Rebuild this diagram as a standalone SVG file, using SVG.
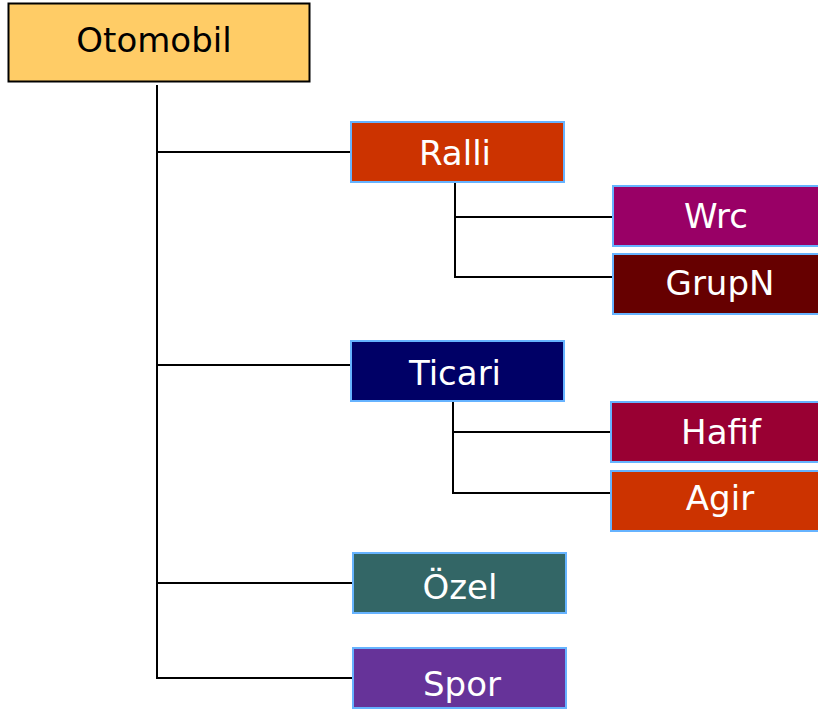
<svg xmlns="http://www.w3.org/2000/svg" width="818" height="711" viewBox="0 0 818 711">
<style>
.box{stroke:#66B3FF;stroke-width:2}
.lbl{font-family:"DejaVu Sans",Verdana,sans-serif;font-size:34px;fill:#FFFFFF;text-anchor:middle}
.conn{stroke:#000;stroke-width:2;fill:none}
</style>
<rect width="818" height="711" fill="#FFFFFF"/>
<g id="connectors">
<path class="conn" d="M157,85 V678 H353"/>
<path class="conn" d="M157,152 H351"/>
<path class="conn" d="M157,365 H351"/>
<path class="conn" d="M157,583 H353"/>
<path class="conn" d="M455,182 V277 H613"/>
<path class="conn" d="M455,217 H613"/>
<path class="conn" d="M453,401 V493 H611"/>
<path class="conn" d="M453,432 H611"/>
</g>
<g id="otomobil">
<rect x="8.5" y="3.5" width="301" height="78" fill="#FFCC66" stroke="#000" stroke-width="2"/>
<text x="154" y="52" font-family="DejaVu Sans,Verdana,sans-serif" font-size="34" fill="#000" text-anchor="middle">Otomobil</text>
</g>
<g id="ralli">
<rect class="box" x="351" y="122" width="213" height="60" fill="#CC3300"/>
<text class="lbl" x="455" y="165">Ralli</text>
</g>
<g id="wrc">
<rect class="box" x="613" y="186" width="213" height="60" fill="#990066"/>
<text class="lbl" x="716" y="228">Wrc</text>
</g>
<g id="grupn">
<rect class="box" x="613" y="254" width="213" height="60" fill="#660000"/>
<text class="lbl" x="720" y="295">GrupN</text>
</g>
<g id="ticari">
<rect class="box" x="351" y="341" width="213" height="60" fill="#000066"/>
<text class="lbl" x="455" y="385">Ticari</text>
</g>
<g id="hafif">
<rect class="box" x="611" y="402" width="213" height="60" fill="#990033"/>
<text class="lbl" x="721" y="444">Hafif</text>
</g>
<g id="agir">
<rect class="box" x="611" y="471" width="213" height="60" fill="#CC3300"/>
<text class="lbl" x="720" y="510">Agir</text>
</g>
<g id="ozel">
<rect class="box" x="353" y="553" width="213" height="60" fill="#336666"/>
<text class="lbl" x="460" y="599">Özel</text>
</g>
<g id="spor">
<rect class="box" x="353" y="648" width="213" height="60" fill="#663399"/>
<text class="lbl" x="462" y="696">Spor</text>
</g>
</svg>
